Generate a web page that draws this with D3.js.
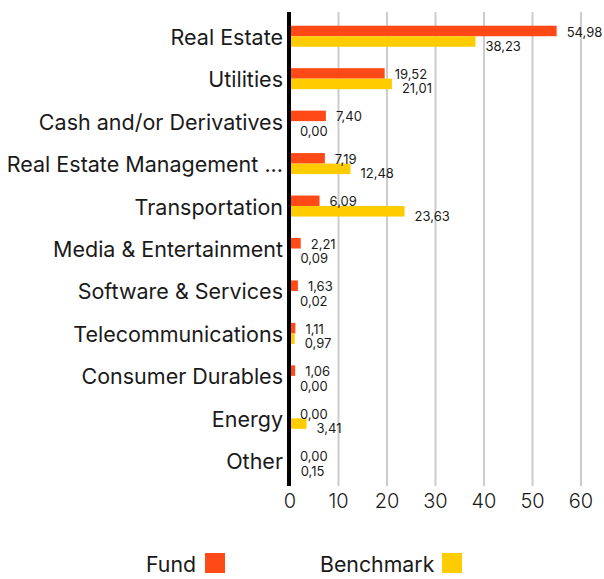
<!DOCTYPE html>
<html>
<head>
<meta charset="utf-8">
<script src="https://cdn.jsdelivr.net/npm/d3@7"></script>
<style>
  body { margin: 0; background: #fff; }
  text { font-family: Inter, "Open Sans", sans-serif; fill: #1a1a1a; }
</style>
</head>
<body>
<div id="chart"></div>
<script>
// Sector breakdown (%)
var categories = ["Real Estate", "Utilities", "Cash and/or Derivatives", "Real Estate Management ...",
  "Transportation", "Media & Entertainment", "Software & Services", "Telecommunications",
  "Consumer Durables", "Energy", "Other"];
var fund = [54.98, 19.52, 7.40, 7.19, 6.09, 2.21, 1.63, 1.11, 1.06, 0.00, 0.00];
var benchmark = [38.23, 21.01, 0.00, 12.48, 23.63, 0.09, 0.02, 0.97, 0.00, 3.41, 0.15];
var ticks = [0, 10, 20, 30, 40, 50, 60];

var width = 604, height = 579;
var margin = { top: 15, right: 23, bottom: 97, left: 290 };

var svg = d3.select("#chart").append("svg")
    .attr("width", width)
    .attr("height", height);

var x = d3.scaleLinear().domain([0, 60]).range([margin.left, width - margin.right]);
var y = d3.scaleBand().domain(categories).range([margin.top, height - margin.bottom]);

var fmt = function (v) { return d3.format(".2f")(v).replace(".", ","); };

// gridlines
svg.selectAll("line.grid")
    .data(ticks.slice(1))
    .enter().append("line")
    .attr("class", "grid")
    .attr("x1", d => x(d)).attr("x2", d => x(d))
    .attr("y1", 12).attr("y2", 486)
    .attr("stroke", "#cccccc")
    .attr("stroke-width", 2);

// tick labels
svg.selectAll("text.tick")
    .data(ticks)
    .enter().append("text")
    .attr("x", d => x(d))
    .attr("y", 508)
    .attr("text-anchor", "middle")
    .style("font-size", "20px")
    .style("font-weight", 300)
    .text(d => d);

var barH = 10.5;
var rows = svg.selectAll("g.row")
    .data(categories)
    .enter().append("g")
    .attr("transform", d => "translate(0," + y(d) + ")");

var mid = y.bandwidth() / 2;

rows.append("rect")
    .attr("x", x(0))
    .attr("y", (d, i) => mid - barH)
    .attr("width", (d, i) => x(fund[i]) - x(0))
    .attr("height", barH)
    .attr("fill", "#ff4a17");

rows.append("rect")
    .attr("x", x(0))
    .attr("y", mid)
    .attr("width", (d, i) => x(benchmark[i]) - x(0))
    .attr("height", barH)
    .attr("fill", "#ffcc00");

rows.append("text")
    .attr("x", (d, i) => x(fund[i]) + 10)
    .attr("y", mid - barH / 2 + 1)
    .attr("dy", "0.35em")
    .style("font-size", "13px")
    .text((d, i) => fmt(fund[i]));

rows.append("text")
    .attr("x", (d, i) => x(benchmark[i]) + 10)
    .attr("y", mid + barH / 2 + 5)
    .attr("dy", "0.35em")
    .style("font-size", "13px")
    .text((d, i) => fmt(benchmark[i]));

rows.append("text")
    .attr("x", 283)
    .attr("y", mid + 1)
    .attr("dy", "0.35em")
    .attr("text-anchor", "end")
    .style("font-size", "21.5px")
    .text(d => d);

// axis line
svg.append("line")
    .attr("x1", x(0) - 1).attr("x2", x(0) - 1)
    .attr("y1", 12).attr("y2", 486)
    .attr("stroke", "#000")
    .attr("stroke-width", 4);

// legend
var legend = [{ name: "Fund", color: "#ff4a17", tx: 146, sx: 205 },
              { name: "Benchmark", color: "#ffcc00", tx: 320, sx: 442 }];
legend.forEach(function (l) {
  svg.append("text")
      .attr("x", l.tx).attr("y", 572)
      .style("font-size", "21.3px")
      .text(l.name);
  svg.append("rect")
      .attr("x", l.sx).attr("y", 553)
      .attr("width", 20).attr("height", 20)
      .attr("fill", l.color);
});
</script>
</body>
</html>
